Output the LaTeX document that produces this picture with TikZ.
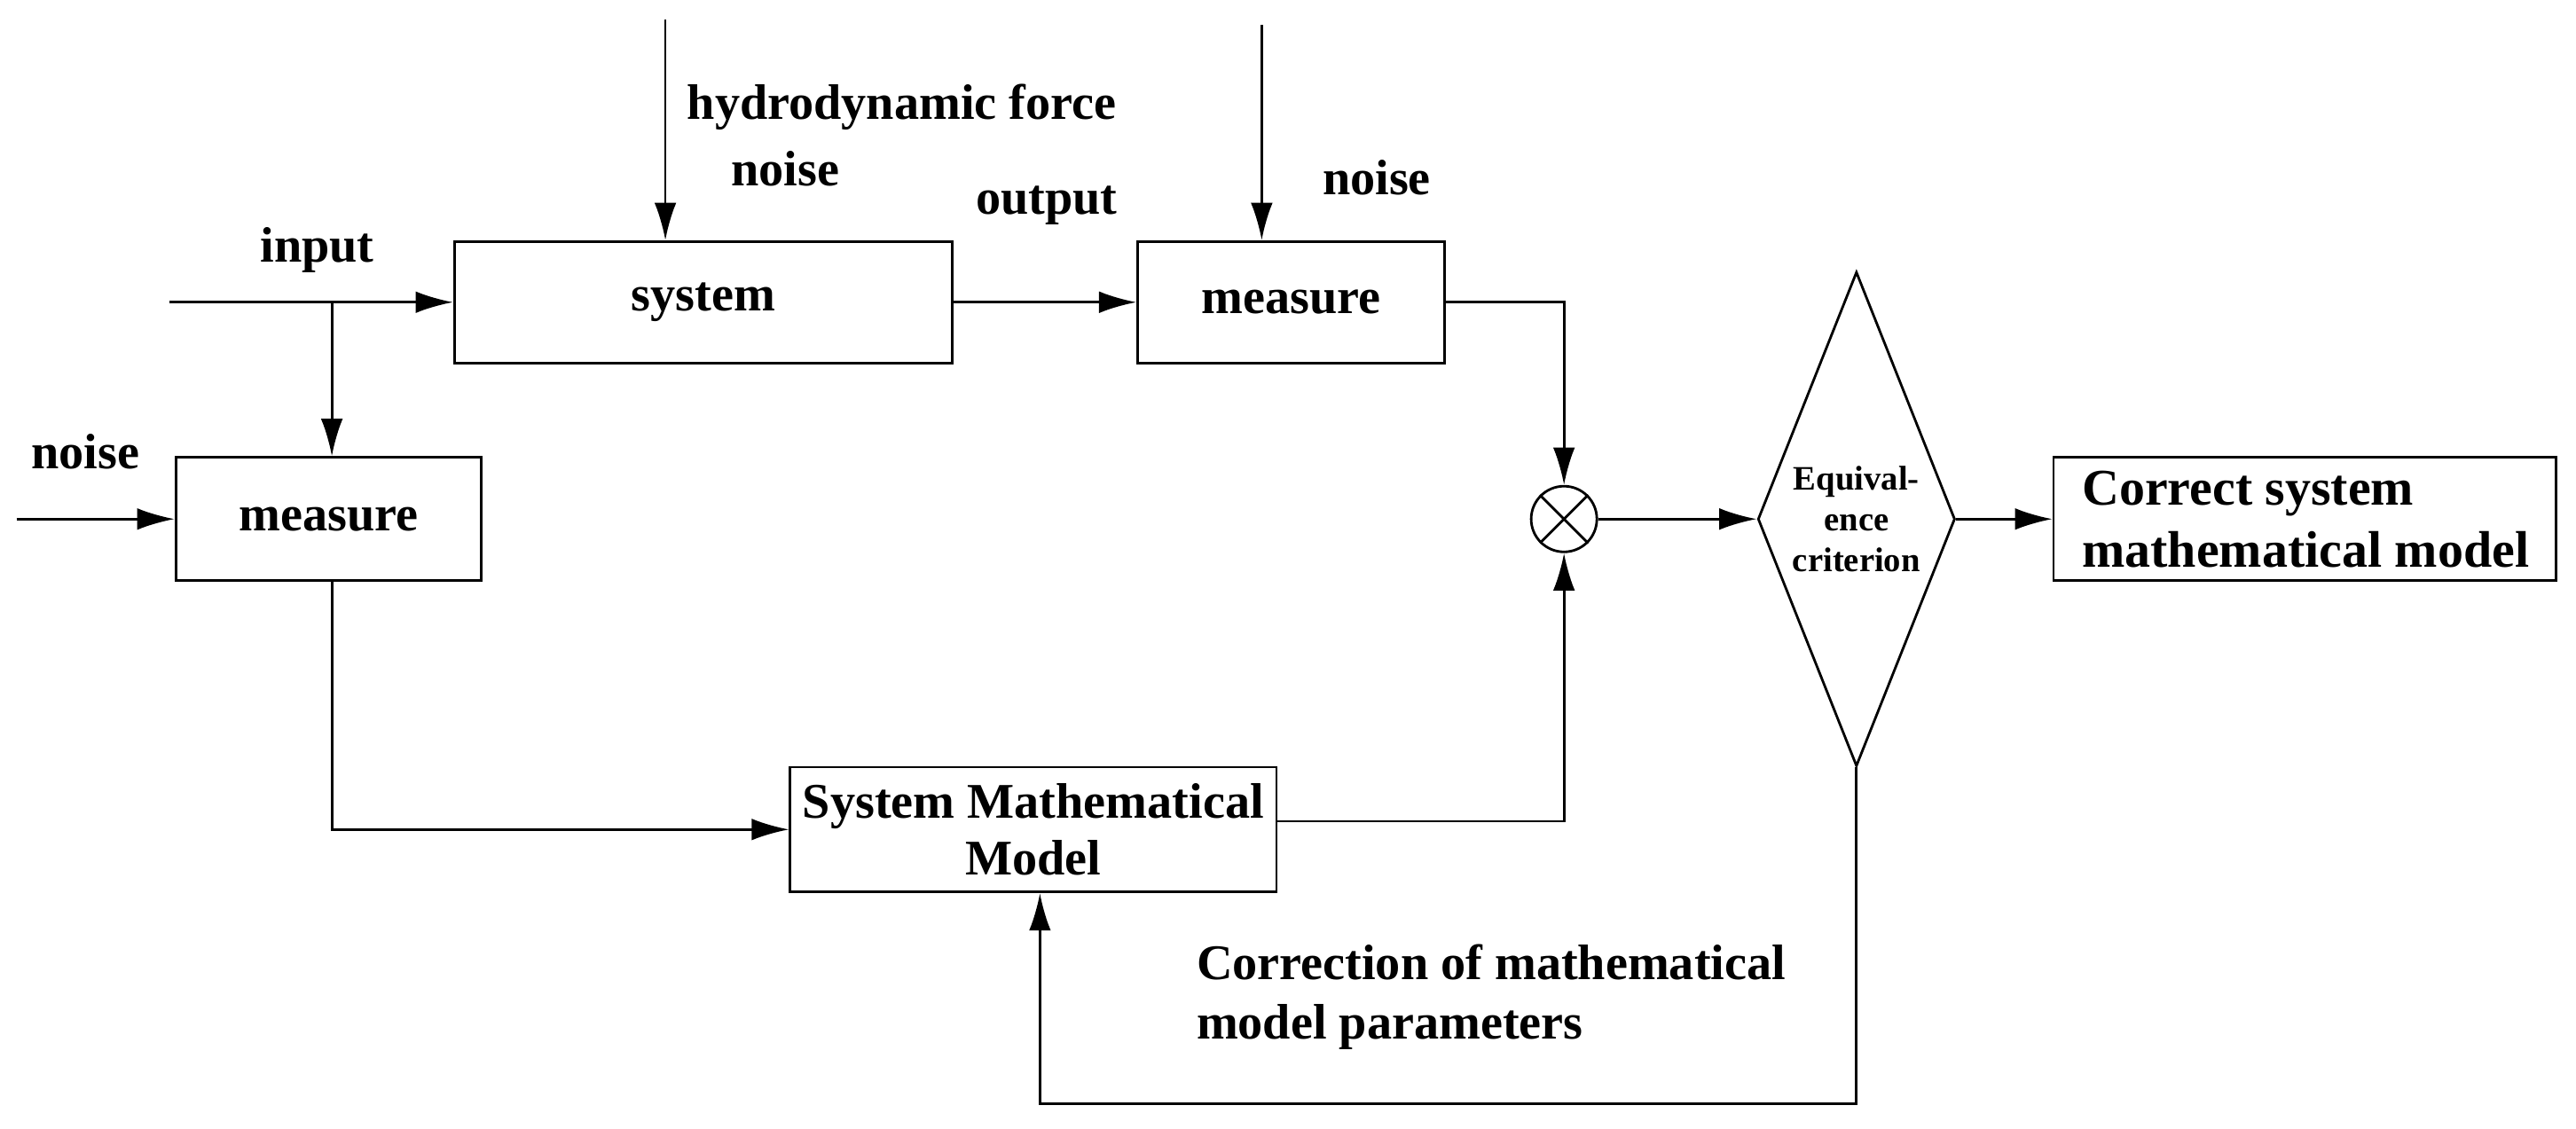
\documentclass[tikz,border=0pt]{standalone}
\usepackage{fontspec}
\setmainfont{Liberation Serif}
\usetikzlibrary{shapes.geometric,arrows.meta}
\begin{document}
\begin{tikzpicture}[x=0.01852cm,y=-0.01852cm,
      block/.style={rectangle, draw, thick, font=\bfseries\fontsize{16}{18}\selectfont},
      lbl/.style={font=\bfseries\fontsize{16}{18}\selectfont, inner sep=0pt},
      big/.style={font=\bfseries\fontsize{16}{19}\selectfont, align=left, inner sep=0pt},
      arr/.style={-{Latex[length=12pt,width=7pt]}, thick}]

    \useasboundingbox (0,0) rectangle (1568,687);

    \node[block, minimum width=303*0.01852cm, minimum height=74*0.01852cm] (sys) at (428,184) {system};
    \node[block, minimum width=187*0.01852cm, minimum height=74*0.01852cm] (meas1) at (786,184) {measure};
    \node[block, minimum width=186*0.01852cm, minimum height=75*0.01852cm] (meas2) at (200,316) {measure};
    \node[block, minimum width=296*0.01852cm, minimum height=76*0.01852cm, inner sep=0pt, align=center] (smm) at (629,505) {System Mathematical\\Model};
    \node[block, minimum width=306*0.01852cm, minimum height=75*0.01852cm] (corr) at (1403,316) {};
    \node[big, anchor=west, font=\bfseries\fontsize{16.5}{20}\selectfont] (tcorrect) at (1267,316) {Correct system\\mathematical model};
    \node[circle, draw, thick, minimum size=40*0.01852cm, inner sep=0pt] (sum) at (952,316) {};
    \draw[thick] (sum.north west) -- (sum.south east) (sum.north east) -- (sum.south west);
    \node[diamond, draw, thick, minimum width=120*0.01852cm, minimum height=301*0.01852cm, inner sep=0pt, aspect=0.4,
          align=center, font=\bfseries\fontsize{11}{13}\selectfont] (eq) at (1130,316) {Equival-\\ence\\criterion};

    \coordinate (in) at (103,184);
    \coordinate (br) at (202,184);
    \coordinate (nz1) at (10,316);
    \coordinate (hf) at (405,12);
    \coordinate (nz2) at (768,15);
    \coordinate (c1) at (952,184);
    \coordinate (c2) at (202,505);
    \coordinate (c3) at (952,500);
    \coordinate (c4) at (1130,672);
    \coordinate (c5) at (633,672);

    \node[lbl] (tin) at (193,152) {input};
    \node[lbl] (tnz1) at (52,275) {noise};
    \node[lbl, anchor=west] (thf) at (418,65) {hydrodynamic force};
    \node[lbl] (tnz2) at (478,103) {noise};
    \node[lbl] (tout) at (637,125) {output};
    \node[lbl] (tnz3) at (838,108) {noise};
    \node[big, anchor=west] (tcorr) at (728,607) {Correction of mathematical\\model parameters};

    \draw[arr] (in) -- (sys.west);
    \draw[arr] (br) -- (meas2.north -| br);
    \draw[arr] (nz1) -- (meas2.west);
    \draw[arr] (hf) -- (sys.north -| hf);
    \draw[arr] (sys.east) -- (meas1.west);
    \draw[arr] (nz2) -- (meas1.north -| nz2);
    \draw[arr] (meas1.east) -- (c1) -- (sum.north);
    \draw[arr] (meas2.south -| c2) -- (c2) -- (smm.west);
    \draw[arr] (smm.east |- c3) -- (c3) -- (sum.south);
    \draw[arr] (sum.east) -- (eq.west);
    \draw[arr] (eq.east) -- (corr.west);
    \draw[arr] (eq.south) -- (c4) -- (c5) -- (smm.south -| c5);

  \end{tikzpicture}
\end{document}
